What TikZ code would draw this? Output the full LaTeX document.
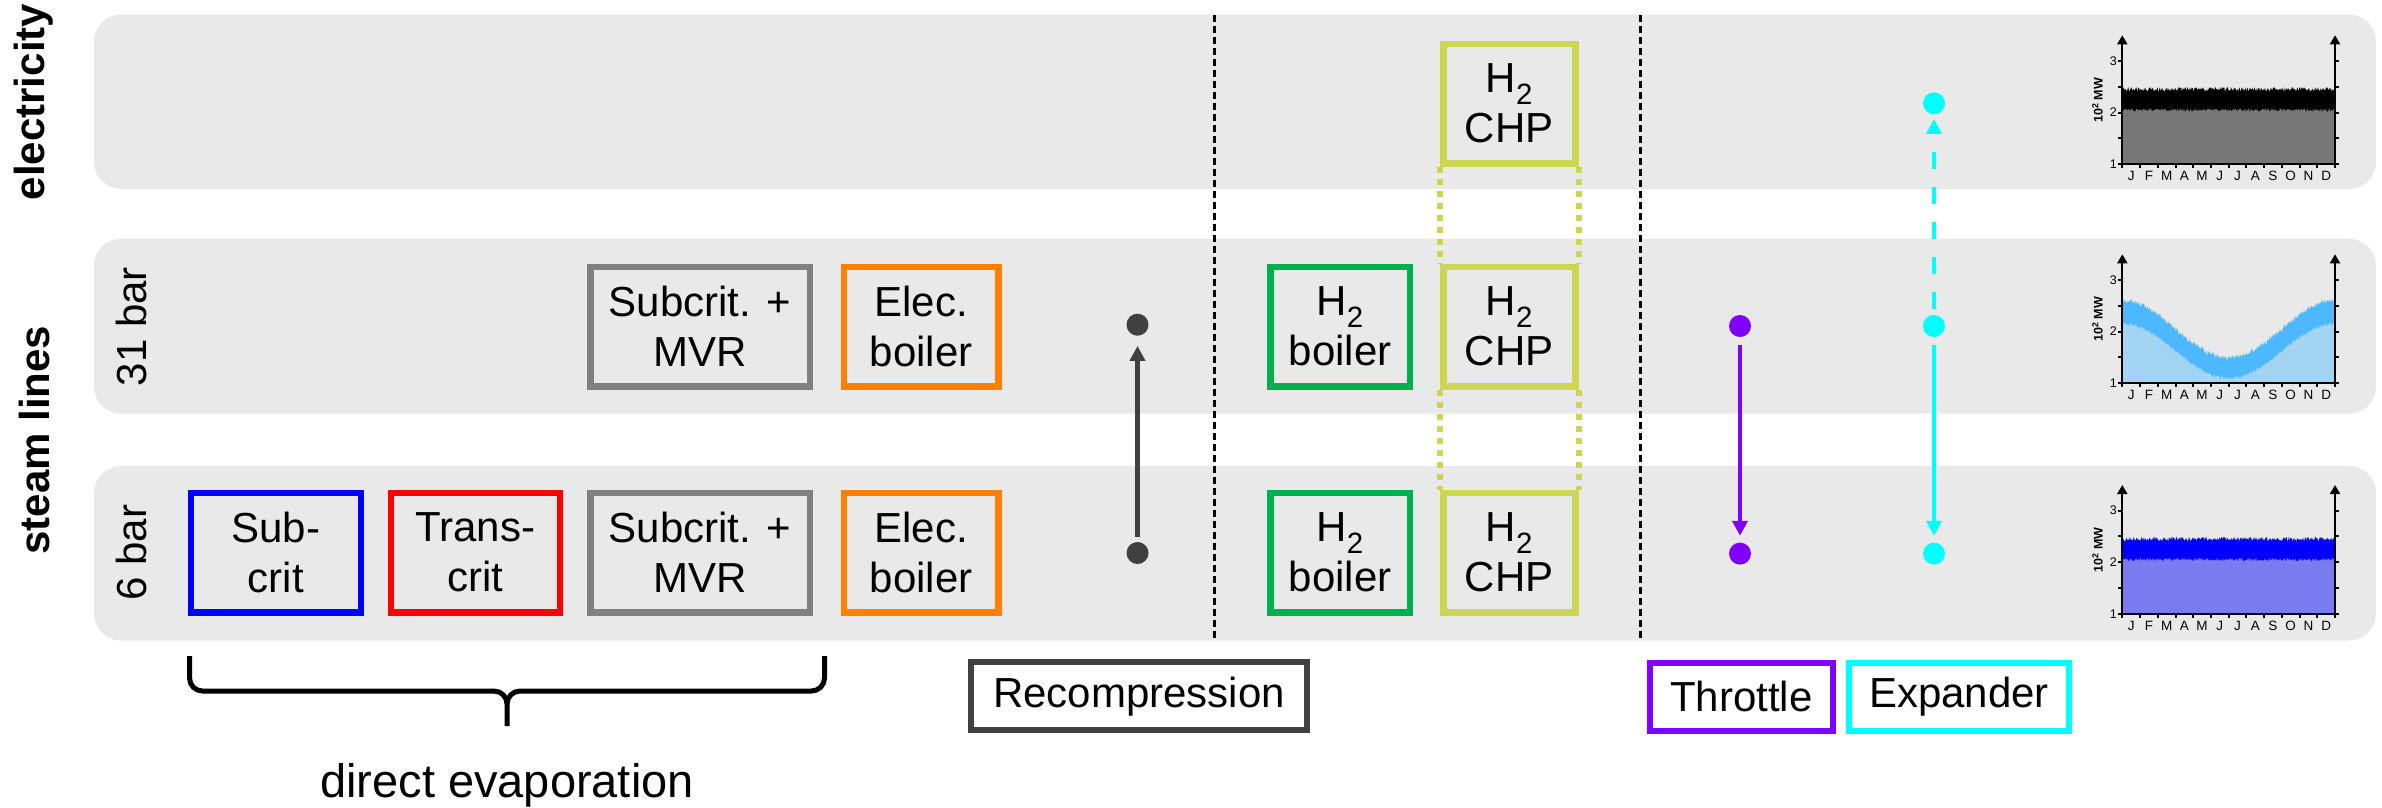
\documentclass[tikz,border=0pt]{standalone}
\usepackage{fontspec}
\setmainfont{Liberation Sans}
\usetikzlibrary{arrows.meta}
\definecolor{bandgray}{HTML}{E9E9E9}
\definecolor{cblue}{HTML}{0000FF}
\definecolor{cred}{HTML}{FF0000}
\definecolor{cmvr}{HTML}{808080}
\definecolor{corange}{HTML}{FF8000}
\definecolor{cgreen}{HTML}{00B050}
\definecolor{cchp}{HTML}{CDD651}
\definecolor{crec}{HTML}{404040}
\definecolor{cthr}{HTML}{8000FF}
\definecolor{cexp}{HTML}{00FFFF}
\definecolor{elgray}{HTML}{777777}
\definecolor{hplight}{HTML}{A3D4F2}
\definecolor{hpband}{HTML}{4DB8FF}
\definecolor{lplight}{HTML}{7B7BF0}
\newcommand\chartframe[1]{%
  \draw[axl] (2122.3,#1) -- (2337,#1);
  \draw[axl,-{Triangle[length=9pt,width=10pt]}] (2122.3,#1) -- (2122.3,{#1-129});
  \draw[axl,-{Triangle[length=9pt,width=10pt]}] (2335,#1) -- (2335,{#1-129});
  \foreach \v in {0,0.5,1,1.5,2}{%
    \draw[axl] (2122.3,{#1-51.7*\v}) -- ++(-4,0);
    \draw[axl] (2335,{#1-51.7*\v}) -- ++(4,0);}
  \foreach \i in {0,...,12} \draw[axl] ({2122.3+17.725*\i},#1) -- ++(0,4);
  \foreach \m [count=\i] in {J,F,M,A,M,J,J,A,S,O,N,D}
    \node[monthlbl] at ({2122.3+17.725*(\i-0.5)},{#1+11.5}) {\m};
  \node[ticklbl] at (2117,#1) {1};
  \node[ticklbl] at (2117,{#1-51.7}) {2};
  \node[ticklbl] at (2117,{#1-103.4}) {3};
  \node[mwlbl] at (2097.5,{#1-64}) {10\textsuperscript{2} MW};
}
\newcommand\noisefill[3]{%
  \fill[#1] (2122.3,#2) -- plot[domain=0:12,samples=420,variable=\t]
    ({2122.3+17.725*\t},{#2-51.7*(#3)}) -- (2335,#2) -- cycle;}
\begin{document}
\begin{tikzpicture}[x=1pt,y=-1pt,
  box/.style={draw, line width=6.5pt, inner sep=0pt, align=center,
    font=\fontsize{42}{50}\selectfont, minimum height=119.5pt},
  legbox/.style={draw, fill=white, line width=6pt, inner sep=0pt, align=center,
    font=\fontsize{42}{50}\selectfont, minimum height=68pt},
  dot/.style={circle, fill, inner sep=0pt, minimum size=22pt},
  sidelbl/.style={rotate=90, font=\bfseries\fontsize{42}{50}\selectfont},
  barlbl/.style={rotate=90, font=\fontsize{42}{50}\selectfont},
  sep/.style={draw=black, line width=2.6pt, dash pattern=on 7pt off 4pt},
  chpdot/.style={draw=cchp, line width=6pt, dash pattern=on 6pt off 6pt},
  axl/.style={line width=2pt, black},
  monthlbl/.style={font=\fontsize{13.5}{15}\selectfont, inner sep=0pt},
  ticklbl/.style={font=\fontsize{12.5}{14}\selectfont, anchor=east, inner sep=0pt},
  mwlbl/.style={rotate=90, font=\bfseries\fontsize{12.5}{14}\selectfont, inner sep=0pt},
  tip/.style={-{Triangle[length=15pt,width=15pt]}}
]
\useasboundingbox (0,0) rectangle (2382,807);
% bands
\fill[bandgray, rounded corners=27pt] (94,14.5) rectangle (2376,189);
\fill[bandgray, rounded corners=27pt] (94,238.7) rectangle (2376,413.7);
\fill[bandgray, rounded corners=27pt] (94,466) rectangle (2376,640.5);
% separators
\coordinate (s1t) at (1214.5,14.5); \coordinate (s1b) at (1214.5,640.5);
\coordinate (s2t) at (1640.5,14.5); \coordinate (s2b) at (1640.5,640.5);
\draw[sep] (s1t) -- (s1b);
\draw[sep] (s2t) -- (s2b);
% side labels
\node[sidelbl] (lel) at (34,102) {electricity};
\node[sidelbl] (lsteam) at (34,440) {steam lines};
\node[barlbl] (l31) at (131,326.5) {31 bar};
\node[barlbl] (l6) at (131,552.5) {6 bar};
% 6 bar row
\node[box, draw=cblue, minimum width=170pt] (sub6) at (275.75,552.5) {Sub-\\crit};
\node[box, draw=cred, minimum width=169pt] (trans6) at (475.25,552.5) {Trans-\\crit};
\node[box, draw=cmvr, minimum width=219.5pt] (mvr6) at (700,552.5) {Subcrit. +\\MVR};
\node[box, draw=corange, minimum width=154.5pt] (eb6) at (921,552.5) {Elec.\\boiler};
\node[box, draw=cgreen, minimum width=139.5pt] (h2b6) at (1340,552.5) {H\textsubscript{2}\\boiler};
\node[box, draw=cchp, minimum width=132pt] (chp6) at (1509.3,552.5) {H\textsubscript{2}\\CHP};
% 31 bar row
\node[box, draw=cmvr, minimum width=219.5pt] (mvr31) at (700,326.5) {Subcrit. +\\MVR};
\node[box, draw=corange, minimum width=154.5pt] (eb31) at (921,326.5) {Elec.\\boiler};
\node[box, draw=cgreen, minimum width=139.5pt] (h2b31) at (1340,326.5) {H\textsubscript{2}\\boiler};
\node[box, draw=cchp, minimum width=132pt] (chp31) at (1509.3,326.5) {H\textsubscript{2}\\CHP};
% electricity row
\node[box, draw=cchp, minimum width=132pt] (chpel) at (1509.3,103.7) {H\textsubscript{2}\\CHP};
% CHP links
\draw[chpdot] (chpel.south west) -- (chp31.north west);
\draw[chpdot] (chpel.south east) -- (chp31.north east);
\draw[chpdot] (chp31.south west) -- (chp6.north west);
\draw[chpdot] (chp31.south east) -- (chp6.north east);
% recompression
\node[dot, fill=crec] (rc31) at (1137.5,324.7) {};
\node[dot, fill=crec] (rc6) at (1137.5,553) {};
\draw[crec, line width=4.7pt, tip, shorten <=5pt, shorten >=10pt] (rc6) -- (rc31);
% throttle
\node[dot, fill=cthr] (th31) at (1740,326) {};
\node[dot, fill=cthr] (th6) at (1740,553.6) {};
\draw[cthr, line width=4.5pt, tip, shorten <=7.7pt, shorten >=6.6pt] (th31) -- (th6);
% expander
\node[dot, fill=cexp] (exel) at (1934,103.3) {};
\node[dot, fill=cexp] (ex31) at (1934,326) {};
\node[dot, fill=cexp] (ex6) at (1934,553.6) {};
\draw[cexp, line width=4.5pt, tip, shorten <=7.7pt, shorten >=6.6pt] (ex31) -- (ex6);
\draw[cexp, line width=4.5pt, tip, dash pattern=on 17pt off 18pt, shorten <=6pt, shorten >=4.4pt] (ex31) -- (exel);
% legend boxes
\node[legbox, draw=crec, minimum width=336pt] (legrec) at (1139,696.2) {Recompression};
\node[legbox, draw=cthr, minimum width=183pt] (legthr) at (1741.2,696.5) {Throttle};
\node[legbox, draw=cexp, minimum width=220.3pt] (legexp) at (1958.9,696.5) {Expander};
% brace
\draw[line width=5pt, black] (189.5,656) -- (189.5,678) to[out=-90,in=180] (202.5,691)
  -- (494,691) to[out=0,in=90] (507,704) -- (507,726);
\draw[line width=5pt, black] (824.5,656) -- (824.5,678) to[out=-90,in=0] (811.5,691)
  -- (520,691) to[out=180,in=90] (507,704);
\node[anchor=base, font=\fontsize{47}{55}\selectfont] (devap) at (507,797) {direct evaporation};
% charts
\pgfmathsetseed{4711}
\noisefill{black}{164.3}{1.45+0.045*rand}
\noisefill{elgray}{164.3}{1.05+0.035*rand}
\chartframe{164.3}
\noisefill{hpband}{383.3}{1.05+0.55*cos(30*\t)+0.05*rand}
\noisefill{hplight}{383.3}{0.62+0.53*cos(30*\t)+0.035*rand}
\chartframe{383.3}
\noisefill{cblue}{614}{1.45+0.045*rand}
\noisefill{lplight}{614}{1.05+0.035*rand}
\chartframe{614}
\end{tikzpicture}
\end{document}
